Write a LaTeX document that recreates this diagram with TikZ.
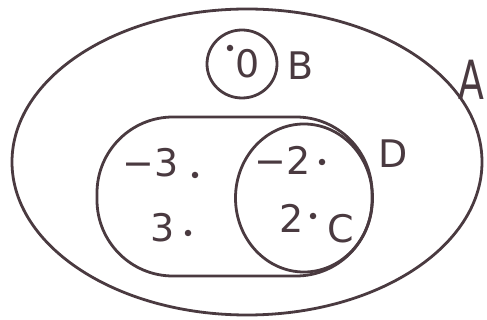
\documentclass[tikz,border=0pt]{standalone}
\usepackage{fontspec}
\setsansfont{DejaVu Sans}
\usetikzlibrary{shapes.geometric}
\definecolor{ink}{HTML}{4A3A40}
\tikzset{
  setline/.style={draw=ink, line width=2.8pt},
  lbl/.style={text=ink, font=\sffamily\fontsize{38}{40}\selectfont, inner sep=0pt},
  big/.style={text=ink, font=\sffamily\fontsize{54}{56}\selectfont, inner sep=0pt},
  elem/.style={circle, fill=ink, minimum size=6.5pt, inner sep=0pt}
}
\begin{document}
\begin{tikzpicture}[x=1pt,y=-1pt]
\useasboundingbox (0,0) rectangle (487,320);
% set A
\node[setline, ellipse, minimum width=470, minimum height=306] (A) at (247,162) {};
\node[big] (Alab) at (471,80) {\scalebox{0.7}[1]{A}};
% set B
\node[setline, ellipse, minimum width=70, minimum height=68] (B) at (242,64) {};
\node[elem] (b0) at (230,48) {};
\node[lbl] (zero) at (248,64) {0};
\node[lbl] (Blab) at (301,66) {B};
% set D
\draw[setline, rounded corners=76] (97,117) rectangle (372,276);
\coordinate (D) at (235,197);
\node[lbl] (Dlab) at (393,154) {D};
% set C
\node[setline, ellipse, minimum width=137, minimum height=148] (C) at (304,198) {};
\node[lbl] (Clab) at (341,229) {C};
% elements
\node[lbl] (m3) at (151,163) {−3};
\node[elem] (m3d) at (195,175) {};
\node[lbl] (p3) at (163,228) {3};
\node[elem] (p3d) at (188,233) {};
\node[lbl] (m2) at (283,160) {−2};
\node[elem] (m2d) at (322,162) {};
\node[lbl] (p2) at (292,218) {2};
\node[elem] (p2d) at (313,216) {};
\end{tikzpicture}
\end{document}
